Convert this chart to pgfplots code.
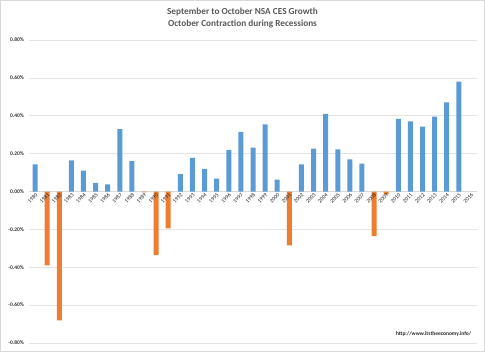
\documentclass[border=0pt]{standalone}
\usepackage{pgfplots}
\pgfplotsset{compat=1.18}
\usepackage{fontspec}
\setmainfont{Carlito}
\definecolor{cblue}{HTML}{5B9BD5}
\definecolor{corange}{HTML}{ED7D31}
\definecolor{tgray}{HTML}{595959}
\definecolor{ggray}{HTML}{D9D9D9}
\pgfplotsset{
  common/.style={
    at={(29bp,9bp)}, anchor=south west,
    scale only axis, width=448bp, height=303bp,
    xmin=1979.5, xmax=2016.5, ymin=-0.8, ymax=0.8,
    axis x line*=middle, axis y line*=left,
    major tick length=0pt,
    /pgf/number format/assume math mode=true,
    clip=false,
  }
}
\begin{document}
\begin{tikzpicture}
\path[use as bounding box] (0,0) rectangle (485bp,352bp);
\draw[ggray,line width=0.8bp] (0.5bp,0.5bp) rectangle (484.5bp,351.5bp);
\node[font=\fontsize{9.3}{11}\selectfont\bfseries,text=tgray] at (242.5bp,340bp) {September to October NSA CES Growth};
\node[font=\fontsize{9.3}{11}\selectfont\bfseries,text=tgray] at (242.5bp,327.5bp) {October Contraction during Recessions};
\begin{axis}[
  common,
  x axis line style={draw=ggray, -}, y axis line style={draw=none,-},
  ytick={-0.8,-0.6,...,0.81},
  xtick={1980,...,2016}, xticklabels={},
  ymajorgrids, grid style={draw=ggray!70, line width=0.6bp},
  y tick label style={font=\fontsize{5.5}{6}\selectfont\bfseries, text=black!80, inner sep=1pt, xshift=-4bp},
  yticklabel={\pgfmathprintnumber[fixed,fixed zerofill,precision=2]{\tick}\%},
  ybar, bar width=5bp, bar shift=0pt,
]
\addplot[fill=cblue, draw=none] coordinates {
(1980,0.143) (1983,0.165) (1984,0.11) (1985,0.045) (1986,0.037) (1987,0.33) (1988,0.16)
(1992,0.092) (1993,0.178) (1994,0.12) (1995,0.068) (1996,0.22) (1997,0.315) (1998,0.232)
(1999,0.355) (2000,0.063) (2002,0.143) (2003,0.226) (2004,0.41) (2005,0.222) (2006,0.17)
(2007,0.147) (2010,0.383) (2011,0.37) (2012,0.343) (2013,0.395) (2014,0.47) (2015,0.58)
};
\addplot[fill=corange, draw=none] coordinates {
(1981,-0.39) (1982,-0.68) (1989,-0.005) (1990,-0.335) (1991,-0.195) (2001,-0.285) (2008,-0.235) (2009,-0.015)
};
\node[anchor=east, font=\fontsize{5.5}{6}\selectfont\bfseries, text=black!85] at (rel axis cs:0.995,0.03) {http://www.itstheeconomy.info/};
\end{axis}
\begin{axis}[
  common,
  x axis line style={draw=none, -}, y axis line style={draw=none,-},
  ytick=\empty, yticklabels={},
  xtick={1980,...,2016},
  x tick label style={font=\fontsize{5.6}{6}\selectfont, text=black!85, rotate=45, anchor=north east, inner sep=1pt},
  xticklabel={\pgfmathprintnumber[1000 sep={}]{\tick}},
]
\end{axis}
\end{tikzpicture}
\end{document}
